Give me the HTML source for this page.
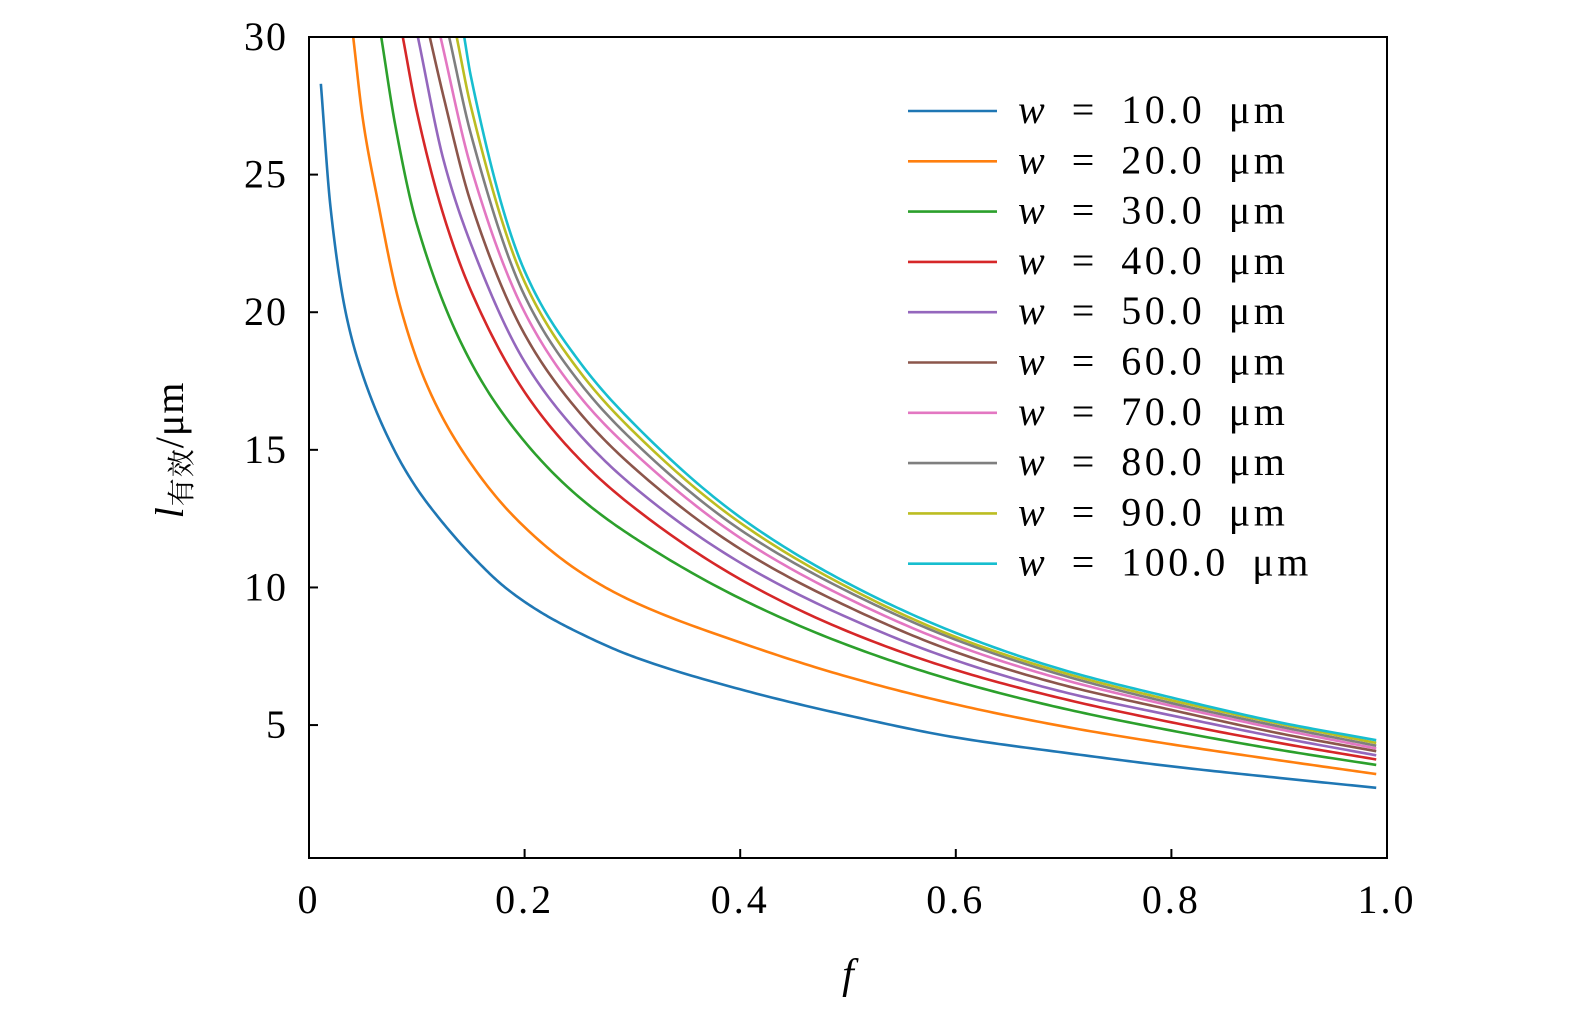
<!DOCTYPE html>
<html><head><meta charset="utf-8"><style>
html,body{margin:0;padding:0;background:#fff;overflow:hidden;}
svg{display:block;}
svg text{font-family:"Liberation Serif","Noto Serif CJK SC",serif;fill:#000;}
</style></head><body>
<svg id="chart" width="1575" height="1014" viewBox="0 0 1575 1014" xmlns="http://www.w3.org/2000/svg">
<g id="plot"></g>
<g id="axes"></g>
<g id="legend"></g>
</svg>
<script>
const seriesNames = ["10.0","20.0","30.0","40.0","50.0","60.0","70.0","80.0","90.0","100.0"];
const colors = ["#1f77b4","#ff7f0e","#2ca02c","#d62728","#9467bd","#8c564b","#e377c2","#7f7f7f","#bcbd22","#17becf"];
const f10 = [0.011,0.02,0.034,0.05,0.079,0.1,0.12,0.15,0.182,0.215,0.248,0.3,0.4,0.5,0.6,0.7,0.8,0.9,0.99];
const l10 = [28.3,23.8,20,17.7,15,13.6,12.55,11.2,10,9.1,8.4,7.5,6.3,5.35,4.55,4.0,3.5,3.08,2.72];
const f20 = [0.041,0.05,0.063,0.084,0.11,0.145,0.192,0.25,0.3,0.4,0.5,0.6,0.7,0.8,0.9,0.99];
const l20 = [30,27,24.2,20.3,17.3,14.8,12.5,10.6,9.5,8.0,6.75,5.75,4.95,4.3,3.72,3.22];
const f30 = [0.067,0.08,0.1,0.15,0.2,0.25,0.3,0.4,0.5,0.6,0.7,0.8,0.9,0.99];
const l30 = [30,26.8,23.2,18.2,15.3,13.3,11.85,9.6,7.9,6.6,5.6,4.8,4.1,3.55];
const f40 = [0.087,0.1,0.125,0.15,0.2,0.25,0.3,0.4,0.5,0.6,0.7,0.8,0.9,0.99];
const l40 = [30,27.3,23.5,20.8,17.1,14.7,12.95,10.3,8.4,7.0,5.95,5.1,4.35,3.75];
const f50 = [0.101,0.125,0.15,0.2,0.25,0.3,0.4,0.5,0.6,0.7,0.8,0.9,0.99];
const l50 = [30,25.5,22.5,18.2,15.6,13.7,10.9,8.9,7.35,6.2,5.35,4.55,3.9];
const f60 = [0.112,0.125,0.15,0.2,0.25,0.3,0.4,0.5,0.6,0.7,0.8,0.9,0.99];
const l60 = [30,27.8,24,19.2,16.4,14.4,11.4,9.3,7.65,6.45,5.55,4.7,4.05];
const f70 = [0.122,0.15,0.2,0.25,0.3,0.4,0.5,0.6,0.7,0.8,0.9,0.99];
const l70 = [30,25.3,20,17.0,14.95,11.8,9.6,7.9,6.65,5.7,4.85,4.15];
const f80 = [0.13,0.15,0.2,0.25,0.3,0.4,0.5,0.6,0.7,0.8,0.9,0.99];
const l80 = [30,26.5,20.6,17.5,15.35,12.1,9.85,8.1,6.8,5.8,4.95,4.25];
const f90 = [0.137,0.15,0.2,0.25,0.3,0.4,0.5,0.6,0.7,0.8,0.9,0.99];
const l90 = [30,27.5,21.1,17.9,15.7,12.35,10.0,8.2,6.9,5.9,5.05,4.35];
const f100 = [0.144,0.15,0.2,0.25,0.3,0.4,0.5,0.6,0.7,0.8,0.9,0.99];
const l100 = [30,28.6,21.5,18.25,16.0,12.55,10.15,8.35,7.0,6.0,5.1,4.45];
const xTicks = [0,0.2,0.4,0.6,0.8,1.0];
const xTickLabels = ["0","0.2","0.4","0.6","0.8","1.0"];
const yTicks = [5,10,15,20,25,30];
const yTickLabels = ["5","10","15","20","25","30"];

const X0=309,X1=1387,Y0=858,Y1=37;
const xMin=0,xMax=1,yMin=0.17,yMax=30;
const sx=v=>X0+(v-xMin)/(xMax-xMin)*(X1-X0);
const sy=v=>Y0-(v-yMin)/(yMax-yMin)*(Y0-Y1);
const NS="http://www.w3.org/2000/svg";
function mk(tag,attrs,parent){const e=document.createElementNS(NS,tag);for(const k in attrs)e.setAttribute(k,attrs[k]);parent.appendChild(e);return e;}
const allF=[f10,f20,f30,f40,f50,f60,f70,f80,f90,f100];
const allL=[l10,l20,l30,l40,l50,l60,l70,l80,l90,l100];
const plot=document.getElementById('plot');
function pathFor(xs,ys){
  const n=xs.length,d=[],m=new Array(n);
  for(let i=0;i<n-1;i++)d.push((ys[i+1]-ys[i])/(xs[i+1]-xs[i]));
  m[0]=d[0];m[n-1]=d[n-2];
  for(let i=1;i<n-1;i++){
    if(d[i-1]*d[i]<=0)m[i]=0;
    else{const h0=xs[i]-xs[i-1],h1=xs[i+1]-xs[i];const w1=2*h1+h0,w2=h1+2*h0;m[i]=(w1+w2)/(w1/d[i-1]+w2/d[i]);}
  }
  let path=`M${sx(xs[0])},${sy(ys[0])}`;
  for(let i=0;i<n-1;i++){
    const h=xs[i+1]-xs[i];
    for(let k=1;k<=20;k++){
      const t=k/20,t2=t*t,t3=t2*t;
      const y=(2*t3-3*t2+1)*ys[i]+(t3-2*t2+t)*h*m[i]+(-2*t3+3*t2)*ys[i+1]+(t3-t2)*h*m[i+1];
      path+=` L${sx(xs[i]+t*h).toFixed(2)},${sy(y).toFixed(2)}`;
    }
  }
  return path;
}
for(let s=0;s<allF.length;s++){
  const el=mk('path',{d:pathFor(allF[s],allL[s]),fill:'none',stroke:colors[s],'stroke-width':2.6,'stroke-linejoin':'round'},plot);
  
  
}
const axes=document.getElementById('axes');
const frame=mk('rect',{x:X0,y:Y1,width:X1-X0,height:Y0-Y1,fill:'none',stroke:'#000','stroke-width':2},axes);


xTicks.forEach((v,i)=>{
  const t=mk('line',{x1:sx(v),x2:sx(v),y1:Y0,y2:Y0-9,stroke:'#000','stroke-width':2},axes);
  
  
  const lb=mk('text',{x:sx(v),y:913,'font-size':40,'letter-spacing':3,'text-anchor':'middle'},axes);
  lb.textContent=xTickLabels[i];
  
  
});
yTicks.forEach((v,i)=>{
  const t=mk('line',{x1:X0,x2:X0+9,y1:sy(v),y2:sy(v),stroke:'#000','stroke-width':2},axes);
  
  
  const lb=mk('text',{x:288,y:sy(v)+13,'font-size':40,'letter-spacing':2,'text-anchor':'end'},axes);
  lb.textContent=yTickLabels[i];
  
  
});
const xt=mk('text',{x:848,y:988,'font-size':42,'font-style':'italic','text-anchor':'middle'},axes);
xt.textContent='f';


const yt=mk('text',{transform:'translate(183,450) rotate(-90)','font-size':40,'text-anchor':'middle','letter-spacing':1},axes);
yt.innerHTML='<tspan font-style="italic">l</tspan><tspan font-size="28" dy="8" font-family="Noto Serif CJK SC, serif">有效</tspan><tspan dy="-8">/μm</tspan>';


const legend=document.getElementById('legend');
seriesNames.forEach((n,i)=>{
  const y=109+i*50.3;
  const g=mk('g',{},legend);
  
  
  mk('line',{x1:908,x2:997,y1:y+2,y2:y+2,stroke:colors[i],'stroke-width':2.6},g);
  const t=mk('text',{x:1018,y:y+14,'font-size':40,'letter-spacing':3.5,'word-spacing':10},g);
  t.innerHTML='<tspan font-style="italic">w</tspan> = '+n+' μm';
});
</script>
</body></html>
